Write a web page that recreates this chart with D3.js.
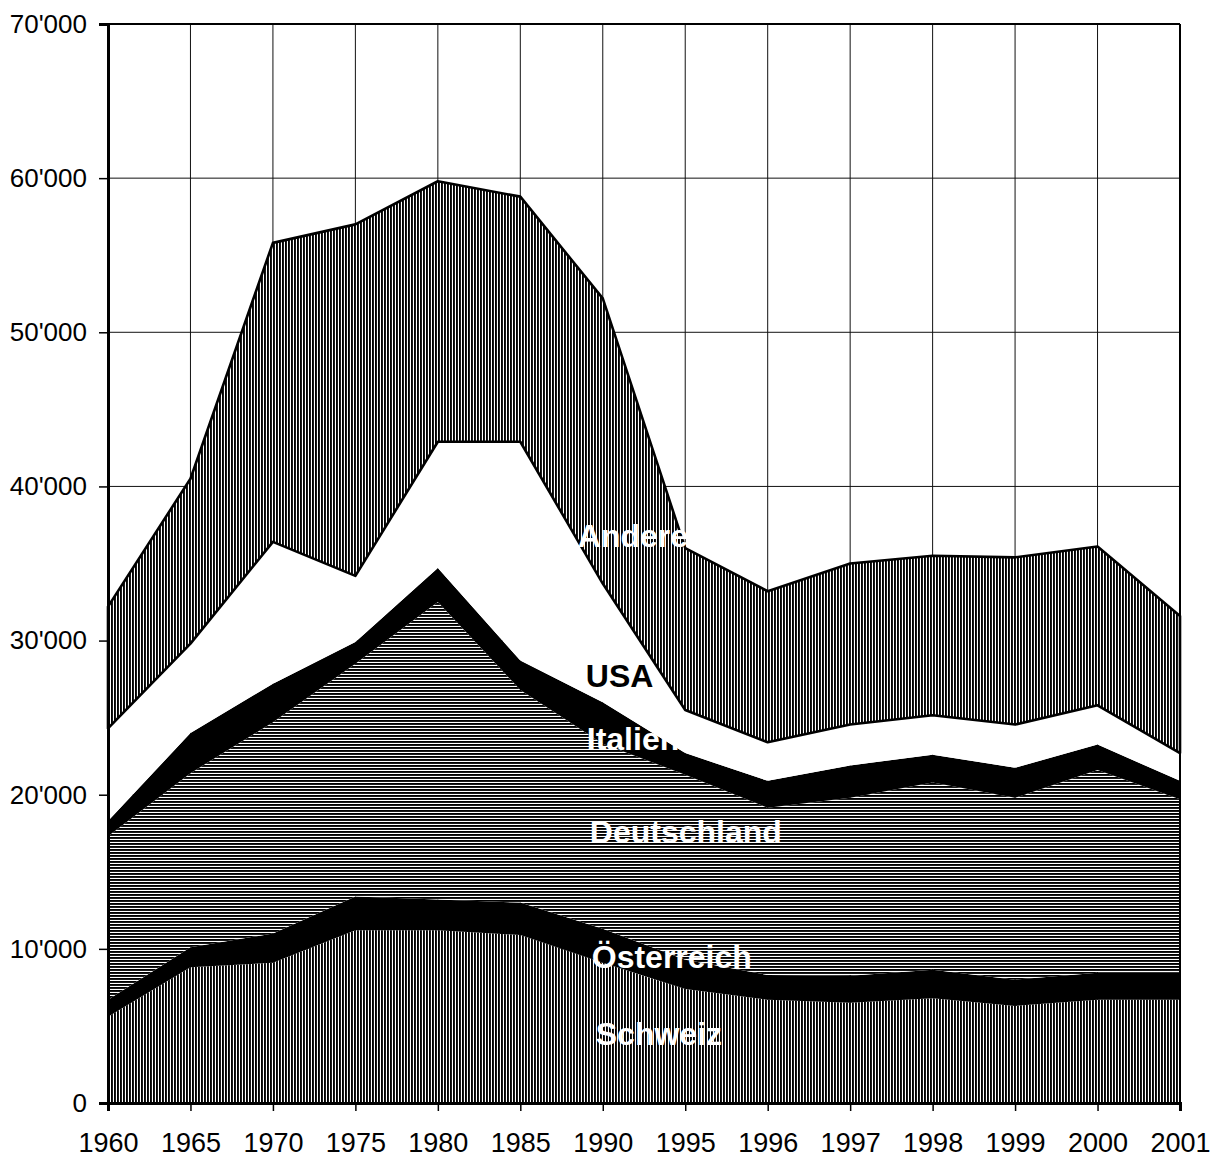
<!DOCTYPE html>
<html><head><meta charset="utf-8">
<script src="https://cdn.jsdelivr.net/npm/d3@7"></script>
<style>body{margin:0;background:#fff} svg{display:block}</style>
</head><body><svg id="chart" width="1219" height="1160"></svg>
<script>
const years = ["1960","1965","1970","1975","1980","1985","1990","1995","1996","1997","1998","1999","2000","2001"];
const schweiz     = [5600, 8800, 9100, 11200, 11200, 10900, 9100, 7400, 6700, 6500, 6800, 6300, 6700, 6700];
const oesterreich = [1100, 1300, 1900, 2200, 2000, 2100, 2200, 1900, 1600, 1750, 1850, 1700, 1750, 1750];
const deutschland = [10600, 11300, 13700, 15100, 19300, 13800, 12000, 12000, 10850, 11550, 12150, 11800, 13150, 11250];
const italien     = [1000, 2600, 2500, 1400, 2200, 1900, 2700, 1400, 1750, 2100, 1800, 1950, 1650, 1200];
const usa         = [6000, 5800, 9200, 4300, 8200, 14200, 7700, 2800, 2500, 2650, 2550, 2800, 2550, 1800];
const andere      = [7900, 10700, 19400, 22800, 16900, 15900, 18500, 10500, 9800, 10450, 10350, 10850, 10300, 8900];
const seriesNames = ["Schweiz","Österreich","Deutschland","Italien","USA","Andere"];
const yTicks = [0,10000,20000,30000,40000,50000,60000,70000];
const labelNames  = ["Andere","USA","Italien","Deutschland","Österreich","Schweiz"];
const labelValues = [36070, 26990, 22900, 16870, 8760, 3760];
const labelYear = "1990";

const seriesValues = [schweiz, oesterreich, deutschland, italien, usa, andere];
const table = years.map((yr,i)=>{
  const row = {year: yr};
  seriesNames.forEach((n,k)=>row[n]=seriesValues[k][i]);
  return row;
});

const L=108, R=1180, T=24, B=1103;
const svg = d3.select("#chart");
const x = d3.scalePoint().domain(years).range([L,R]);
const y = d3.scaleLinear().domain([0,70000]).range([B,T]);
const fmt = d3.formatLocale({thousands:"'", grouping:[3], decimal:".", currency:["",""]}).format(",");

const defs = svg.append("defs");
const vp = defs.append("pattern").attr("id","vhatch").attr("patternUnits","userSpaceOnUse").attr("width",3).attr("height",10);
vp.append("rect").attr("width",3).attr("height",10).attr("fill","#fff");
vp.append("rect").attr("width",1.9).attr("height",10).attr("fill","#000");
const hp = defs.append("pattern").attr("id","hhatch").attr("patternUnits","userSpaceOnUse").attr("width",10).attr("height",3);
hp.append("rect").attr("width",10).attr("height",3).attr("fill","#fff");
hp.append("rect").attr("width",10).attr("height",1.9).attr("fill","#000");

// grid
const g = svg.append("g");
g.selectAll("line.v").data(years).join("line")
  .attr("x1",d=>x(d)).attr("x2",d=>x(d)).attr("y1",T).attr("y2",B)
  .attr("stroke","#111").attr("stroke-width",1);
g.selectAll("line.h").data(yTicks).join("line")
  .attr("x1",L).attr("x2",R).attr("y1",d=>y(d)).attr("y2",d=>y(d))
  .attr("stroke","#111").attr("stroke-width",1);

// areas
const stack = d3.stack().keys(seriesNames)(table);
const area = d3.area().x(d=>x(d.data.year)).y0(d=>y(d[0])).y1(d=>y(d[1]));
const fills = {"Schweiz":"url(#vhatch)","Österreich":"#000","Deutschland":"url(#hhatch)","Italien":"#000","USA":"#fff","Andere":"url(#vhatch)"};
svg.append("g").selectAll("path").data(stack).join("path")
  .attr("d",area)
  .attr("fill",d=>fills[d.key])
  .attr("stroke",d=>d.key==="Andere"?"#000":"none")
  .attr("stroke-width",2.6)
  .attr("stroke-linejoin","round");

// frame
svg.append("line").attr("x1",L).attr("x2",R).attr("y1",T).attr("y2",T).attr("stroke","#000").attr("stroke-width",2);
svg.append("line").attr("x1",R).attr("x2",R).attr("y1",T).attr("y2",B).attr("stroke","#000").attr("stroke-width",2);

// axes
const ax = svg.append("g").attr("transform",`translate(0,${B})`)
  .call(d3.axisBottom(x).tickSize(8).tickPadding(22));
ax.select(".domain").attr("stroke-width",3);
ax.selectAll(".tick line").attr("stroke-width",1.5);
ax.selectAll("text").attr("font-family","'Liberation Sans', Arial, sans-serif").attr("font-size",27).attr("fill","#000");

const ay = svg.append("g").attr("transform",`translate(${L},0)`)
  .call(d3.axisLeft(y).tickValues(yTicks).tickFormat(fmt).tickSize(9).tickPadding(12));
ay.select(".domain").attr("stroke-width",3);
ay.selectAll(".tick line").attr("stroke-width",1.5);
ay.selectAll("text").attr("font-family","'Liberation Sans', Arial, sans-serif").attr("font-size",26).attr("fill","#000");

// series labels
const labelOffsets = {"Andere":-25,"USA":-17,"Italien":-16,"Deutschland":-13,"Österreich":-11,"Schweiz":-7};
svg.append("g").selectAll("text").data(labelNames).join("text")
  .attr("x",d=>x(labelYear)+labelOffsets[d])
  .attr("y",(d,i)=>y(labelValues[i]))
  .attr("font-family","'Liberation Sans', Arial, sans-serif")
  .attr("font-weight","bold").attr("font-size",32)
  .attr("fill",d=>d==="USA"?"#000":"#fff")
  .text(d=>d);
</script></body></html>
